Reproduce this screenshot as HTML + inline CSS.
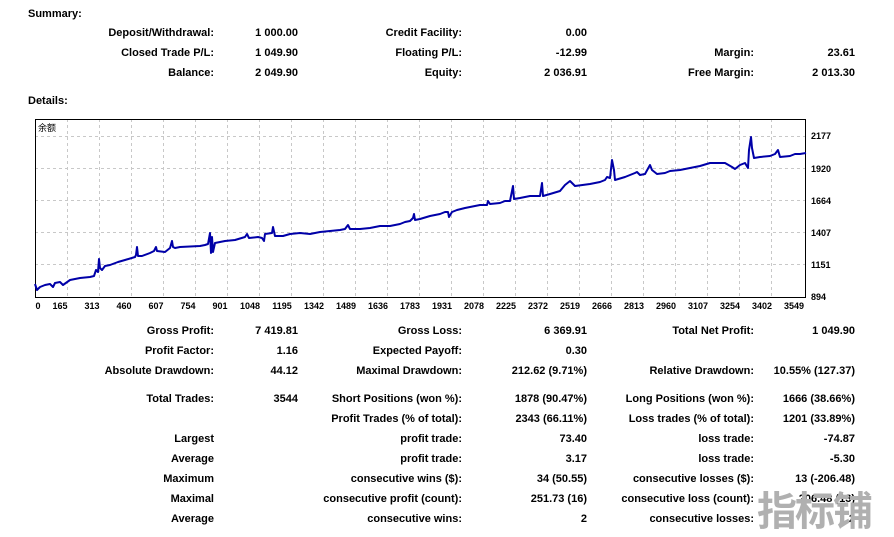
<!DOCTYPE html>
<html><head><meta charset="utf-8"><style>
body{margin:0;width:894px;height:530px;background:#fff;overflow:hidden;position:relative;font-family:"Liberation Sans","Noto Sans CJK SC",sans-serif;font-size:11px;font-weight:bold;color:#000}
.t{position:absolute;white-space:nowrap;line-height:13px}
.r{text-align:right}
</style></head><body>
<div class="t" style="left:28px;top:8px">Summary:</div>
<div class="t" style="left:28px;top:95px">Details:</div>
<div id="c"></div>
<svg style="position:absolute;left:0;top:0" width="894" height="530" font-family="Liberation Sans, Noto Sans CJK SC, sans-serif" font-size="9">
<g stroke="#c8c8c8" stroke-dasharray="3,3" stroke-width="1">
<line x1="35" y1="136.5" x2="806" y2="136.5"/><line x1="35" y1="168.5" x2="806" y2="168.5"/><line x1="35" y1="200.5" x2="806" y2="200.5"/><line x1="35" y1="232.5" x2="806" y2="232.5"/><line x1="35" y1="264.5" x2="806" y2="264.5"/>
<line x1="67.5" y1="119" x2="67.5" y2="298"/><line x1="99.5" y1="119" x2="99.5" y2="298"/><line x1="131.5" y1="119" x2="131.5" y2="298"/><line x1="163.5" y1="119" x2="163.5" y2="298"/><line x1="195.5" y1="119" x2="195.5" y2="298"/><line x1="227.5" y1="119" x2="227.5" y2="298"/><line x1="259.5" y1="119" x2="259.5" y2="298"/><line x1="291.5" y1="119" x2="291.5" y2="298"/><line x1="323.5" y1="119" x2="323.5" y2="298"/><line x1="355.5" y1="119" x2="355.5" y2="298"/><line x1="387.5" y1="119" x2="387.5" y2="298"/><line x1="419.5" y1="119" x2="419.5" y2="298"/><line x1="451.5" y1="119" x2="451.5" y2="298"/><line x1="483.5" y1="119" x2="483.5" y2="298"/><line x1="515.5" y1="119" x2="515.5" y2="298"/><line x1="547.5" y1="119" x2="547.5" y2="298"/><line x1="579.5" y1="119" x2="579.5" y2="298"/><line x1="611.5" y1="119" x2="611.5" y2="298"/><line x1="643.5" y1="119" x2="643.5" y2="298"/><line x1="675.5" y1="119" x2="675.5" y2="298"/><line x1="707.5" y1="119" x2="707.5" y2="298"/><line x1="739.5" y1="119" x2="739.5" y2="298"/><line x1="771.5" y1="119" x2="771.5" y2="298"/>
</g>
<rect x="35.5" y="119.5" width="770" height="178" fill="none" stroke="#000"/>
<polyline fill="none" stroke="#0000a8" stroke-width="2" stroke-linejoin="round" points="35,284 37,290 40,287 45,285 50,284 53,287 55,283 60,282 63,285 70,280 80,278 90,277 94,276 96,270 98,272 99,259 100,268 102,270 105,266 110,265 118,262 125,260 135,257 136,255 137,247 138,256 142,256 150,253 154,251 156,247 157,251 165,252 170,248 172,241 173,247 175,248 180,247 200,246 205,245 208,244 210,233 211,253 212,237 213,252 215,243 225,241 235,240 245,237 247,234 249,238 258,237 262,238 264,241 265,234 272,233 273,227 275,236 283,236 290,234 300,233 310,234 320,232 330,231 340,230 345,229 348,225 350,229 360,229 370,228 380,226 390,226 400,224 405,222 410,221 413,218 414,214 415,220 420,219 430,216 440,214 445,212 448,212 449,217 452,212 457,210 465,208 475,206 480,205 487,205 488,201 490,204 500,203 505,201 510,201 513,186 514,199 520,198 530,196 540,196 542,183 543,196 550,194 560,191 565,185 570,181 575,186 590,184 600,182 605,180 607,177 610,178 612,160 614,170 615,180 625,177 630,175 635,173 637,172 640,175 645,174 650,165 652,170 657,174 665,173 670,171 680,170 690,168 700,166 710,163 725,163 732,167 735,169 740,165 745,163 748,168 749,150 751,137 752,148 754,158 760,157 770,156 775,154 778,150 780,157 790,156 795,154 800,154 806,153"/>
<text x="38" y="131" font-size="9" font-weight="normal">余额</text>
<g font-size="9" fill="#000">
<text x="811" y="139">2177</text><text x="811" y="172">1920</text><text x="811" y="204">1664</text><text x="811" y="236">1407</text><text x="811" y="268">1151</text><text x="811" y="300">894</text>
</g>
<g font-size="9" text-anchor="middle">
<text x="38" y="309">0</text><text x="60" y="309">165</text><text x="92" y="309">313</text><text x="124" y="309">460</text><text x="156" y="309">607</text><text x="188" y="309">754</text><text x="220" y="309">901</text><text x="250" y="309">1048</text><text x="282" y="309">1195</text><text x="314" y="309">1342</text><text x="346" y="309">1489</text><text x="378" y="309">1636</text><text x="410" y="309">1783</text><text x="442" y="309">1931</text><text x="474" y="309">2078</text><text x="506" y="309">2225</text><text x="538" y="309">2372</text><text x="570" y="309">2519</text><text x="602" y="309">2666</text><text x="634" y="309">2813</text><text x="666" y="309">2960</text><text x="698" y="309">3107</text><text x="730" y="309">3254</text><text x="762" y="309">3402</text><text x="794" y="309">3549</text>
</g>
</svg>
<div class="t" style="left:757px;top:486px;font-size:40px;line-height:44px;color:#b0b0b0;font-weight:bold;font-family:'Noto Sans CJK SC',sans-serif;letter-spacing:-2px">指标铺</div>
<script>
var rows=[
[33,"Deposit/Withdrawal:","1 000.00","Credit Facility:","0.00","",""],
[53,"Closed Trade P/L:","1 049.90","Floating P/L:","-12.99","Margin:","23.61"],
[73,"Balance:","2 049.90","Equity:","2 036.91","Free Margin:","2 013.30"],
[331,"Gross Profit:","7 419.81","Gross Loss:","6 369.91","Total Net Profit:","1 049.90"],
[351,"Profit Factor:","1.16","Expected Payoff:","0.30","",""],
[371,"Absolute Drawdown:","44.12","Maximal Drawdown:","212.62 (9.71%)","Relative Drawdown:","10.55% (127.37)"],
[399,"Total Trades:","3544","Short Positions (won %):","1878 (90.47%)","Long Positions (won %):","1666 (38.66%)"],
[419,"","","Profit Trades (% of total):","2343 (66.11%)","Loss trades (% of total):","1201 (33.89%)"],
[439,"Largest","","profit trade:","73.40","loss trade:","-74.87"],
[459,"Average","","profit trade:","3.17","loss trade:","-5.30"],
[479,"Maximum","","consecutive wins ($):","34 (50.55)","consecutive losses ($):","13 (-206.48)"],
[499,"Maximal","","consecutive profit (count):","251.73 (16)","consecutive loss (count):","206.48 (13)"],
[519,"Average","","consecutive wins:","2","consecutive losses:","2"]];
var R=[214,298,462,587,754,855],h="";
rows.forEach(function(r){for(var i=0;i<6;i++){if(r[i+1])h+='<div class="t r" style="right:'+(894-R[i])+'px;top:'+(r[0]-6)+'px">'+r[i+1]+'</div>';}});
document.getElementById("c").innerHTML=h;
</script>
</body></html>
